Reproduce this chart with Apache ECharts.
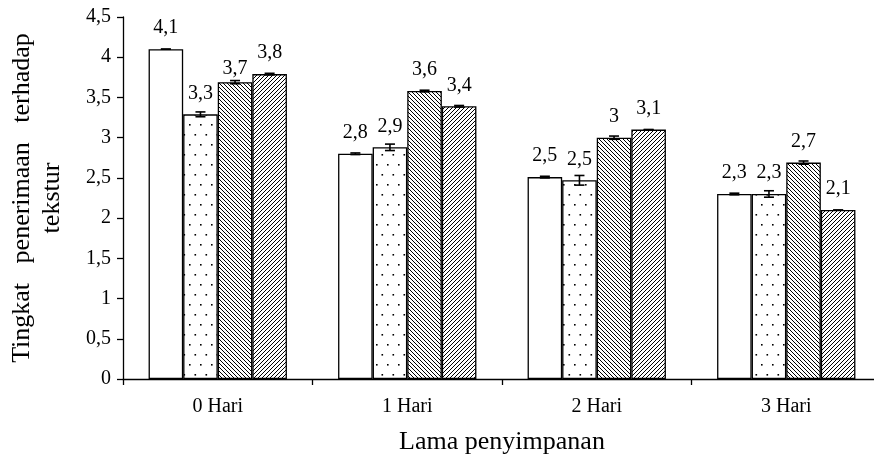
<!DOCTYPE html>
<html>
<head>
<meta charset="utf-8">
<script src="https://cdn.jsdelivr.net/npm/echarts@6/dist/echarts.min.js"></script>
<style>
html,body{margin:0;padding:0;background:#fff;}
#c{width:874px;height:455px;}
</style>
</head>
<body>
<div id="c"></div>
<script>
const categories = ['0 Hari', '1 Hari', '2 Hari', '3 Hari'];
const yTicks = [0, 0.5, 1, 1.5, 2, 2.5, 3, 3.5, 4, 4.5];
const s1 = [4.10, 2.80, 2.51, 2.30];
const s2 = [3.29, 2.88, 2.47, 2.30];
const s3 = [3.69, 3.58, 3.00, 2.69];
const s4 = [3.79, 3.39, 3.10, 2.10];
const e1 = [0.00, 0.01, 0.01, 0.01];
const e2 = [0.03, 0.04, 0.06, 0.04];
const e3 = [0.02, 0.01, 0.02, 0.02];
const e4 = [0.01, 0.01, 0.00, 0.00];

const FONT = 'Liberation Serif';
const GAP = 0.27;

function makeTile(w, h, draw) {
  const c = document.createElement('canvas');
  c.width = w; c.height = h;
  const ctx = c.getContext('2d');
  ctx.fillStyle = '#fff';
  ctx.fillRect(0, 0, w, h);
  draw(ctx, w, h);
  return c;
}
const dotTile = makeTile(11, 20, (ctx) => {
  ctx.fillStyle = '#000';
  ctx.fillRect(2, 4, 1.6, 1.6);
  ctx.fillRect(7.5, 14, 1.6, 1.6);
});
function diagTile(s, back) {
  return makeTile(s, s, (ctx, w, h) => {
    ctx.strokeStyle = '#000';
    ctx.lineWidth = 1;
    ctx.beginPath();
    if (back) {
      ctx.moveTo(-1, -1); ctx.lineTo(s + 1, s + 1);
      ctx.moveTo(-1, s - 1); ctx.lineTo(1, s + 1);
      ctx.moveTo(s - 1, -1); ctx.lineTo(s + 1, 1);
    } else {
      ctx.moveTo(-1, s + 1); ctx.lineTo(s + 1, -1);
      ctx.moveTo(-1, 1); ctx.lineTo(1, -1);
      ctx.moveTo(s - 1, s + 1); ctx.lineTo(s + 1, s - 1);
    }
    ctx.stroke();
  });
}
const fills = [
  '#ffffff',
  { image: dotTile, repeat: 'repeat' },
  { image: diagTile(4, true), repeat: 'repeat' },
  { image: diagTile(4, false), repeat: 'repeat' }
];
const values = [s1, s2, s3, s4];
const errors = [e1, e2, e3, e4];

function fmt(v) {
  return String(parseFloat(v.toFixed(1))).replace('.', ',');
}

const series = [];
values.forEach((vals, i) => {
  series.push({
    type: 'bar',
    name: 'S' + (i + 1),
    data: vals.map((v, j) => (i === 2 && j === 0) ? { value: v, label: { offset: [0, 8] } } : v),
    barGap: '0%',
    barCategoryGap: (GAP * 100) + '%',
    itemStyle: { color: fills[i], borderColor: '#000', borderWidth: 1.3 },
    label: {
      show: true, position: 'top', distance: 11,
      fontFamily: FONT, fontSize: 20, color: '#000',
      formatter: (p) => fmt(p.value)
    },
    z: 2
  });
});
values.forEach((vals, i) => {
  series.push({
    type: 'custom',
    name: 'err' + (i + 1),
    data: vals.map((v, j) => [j, v, errors[i][j]]),
    encode: { x: 0, y: 1 },
    z: 5,
    silent: true,
    renderItem: function (params, api) {
      const idx = api.value(0), v = api.value(1), e = api.value(2);
      const catW = api.size([1, 0])[0];
      const bw = catW * (1 - GAP) / 4;
      const cx = api.coord([idx, 0])[0] + (i - 1.5) * bw;
      const yHi = api.coord([idx, v + e])[1];
      const yLo = api.coord([idx, v - e])[1];
      const st = { stroke: '#000', lineWidth: 1.6 };
      const hw = 5;
      return {
        type: 'group',
        children: [
          { type: 'line', shape: { x1: cx, y1: yHi, x2: cx, y2: yLo }, style: st },
          { type: 'line', shape: { x1: cx - hw, y1: yHi, x2: cx + hw, y2: yHi }, style: st },
          { type: 'line', shape: { x1: cx - hw, y1: yLo, x2: cx + hw, y2: yLo }, style: st }
        ]
      };
    }
  });
});

const chart = echarts.init(document.getElementById('c'));
chart.setOption({
  animation: false,
  backgroundColor: '#fff',
  grid: { left: 123, right: -7, top: 17, bottom: 76, containLabel: false, outerBoundsMode: 'none' },
  xAxis: {
    type: 'category',
    data: categories,
    name: 'Lama penyimpanan',
    nameLocation: 'middle',
    nameGap: 50,
    nameTextStyle: { fontFamily: FONT, fontSize: 26, color: '#000' },
    axisLine: { lineStyle: { color: '#000', width: 1.3 } },
    axisTick: { show: true, interval: 0, length: 6, lineStyle: { color: '#000', width: 1.3 } },
    axisLabel: { interval: 0, margin: 18, fontFamily: FONT, fontSize: 20, color: '#000' }
  },
  yAxis: {
    type: 'value',
    min: yTicks[0],
    max: yTicks[yTicks.length - 1],
    interval: 0.5,
    name: 'Tingkat   penerimaan   terhadap\ntekstur',
    nameLocation: 'middle',
    nameGap: 56,
    nameTextStyle: { fontFamily: FONT, fontSize: 26, color: '#000', lineHeight: 30 },
    splitLine: { show: false },
    axisLine: { show: true, lineStyle: { color: '#000', width: 1.3 } },
    axisTick: { show: true, length: 6, lineStyle: { color: '#000', width: 1.3 } },
    axisLabel: {
      margin: 12, fontFamily: FONT, fontSize: 20, color: '#000',
      formatter: (v) => String(v).replace('.', ',')
    }
  },
  series: series
});
</script>
</body>
</html>
